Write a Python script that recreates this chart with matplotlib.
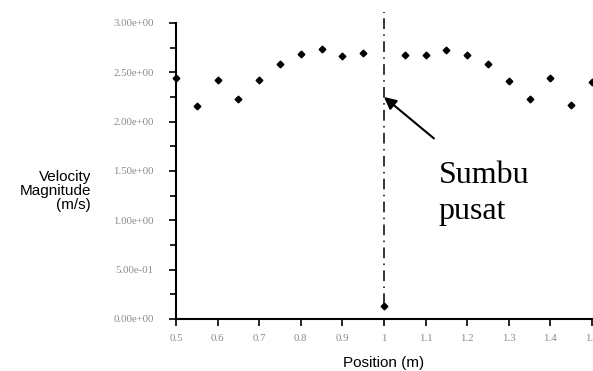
import matplotlib.pyplot as plt
from matplotlib.ticker import MultipleLocator

position = [0.5, 0.55, 0.6, 0.65, 0.7, 0.75, 0.8, 0.85, 0.9, 0.95, 1.0,
            1.05, 1.1, 1.15, 1.2, 1.25, 1.3, 1.35, 1.4, 1.45, 1.5]
velocity = [2.44, 2.16, 2.42, 2.23, 2.42, 2.58, 2.69, 2.74, 2.67, 2.70, 0.13,
            2.68, 2.68, 2.73, 2.68, 2.58, 2.41, 2.23, 2.44, 2.17, 2.40]
yticks = [0.0, 0.5, 1.0, 1.5, 2.0, 2.5, 3.0]
ytick_labels = ["0.00e+00", "5.00e-01", "1.00e+00", "1.50e+00",
                "2.00e+00", "2.50e+00", "3.00e+00"]
xticks = [0.5, 0.6, 0.7, 0.8, 0.9, 1.0, 1.1, 1.2, 1.3, 1.4, 1.5]
xtick_labels = ["0.5", "0.6", "0.7", "0.8", "0.9", "1", "1.1", "1.2", "1.3", "1.4", "1.5"]

fig = plt.figure(figsize=(5.93, 3.71), dpi=100)
ax = fig.add_axes([176/593, 52/371, 416/593, 296/371])

ax.plot(position, velocity, "kD", markersize=3.4, clip_on=False, zorder=3)

# centre axis line
ax.plot([1.0, 1.0], [0.15, 3.11], color="black", lw=1.1,
        linestyle=(0, (7, 3.5, 1, 3.5)), clip_on=False)
ax.annotate("", xy=(1.0, 2.25), xytext=(1.12, 1.83),
            arrowprops=dict(arrowstyle="-|>", color="black", lw=1.5,
                            mutation_scale=18, shrinkA=0, shrinkB=0))
ax.text(1.132, 1.378, "Sumbu", family="Liberation Serif", fontsize=23,
        va="baseline", ha="left")
ax.text(1.132, 1.013, "pusat", family="Liberation Serif", fontsize=23,
        va="baseline", ha="left")

ax.set_xlim(0.5, 1.5)
ax.set_ylim(0, 3.0)
ax.set_xticks(xticks)
ax.set_xticklabels(xtick_labels)
ax.set_yticks(yticks)
ax.set_yticklabels(ytick_labels)
ax.yaxis.set_minor_locator(MultipleLocator(0.25))

for s in ["top", "right"]:
    ax.spines[s].set_visible(False)
for s in ["left", "bottom"]:
    ax.spines[s].set_linewidth(1.5)

ax.tick_params(axis="both", which="major", length=5, width=1.2,
               labelsize=7.8, labelcolor="#8a8a8a")
ax.tick_params(axis="y", which="major", pad=11)
ax.tick_params(axis="x", which="major", pad=6)
ax.tick_params(axis="y", which="minor", length=4, width=1.2)
for lab in ax.get_xticklabels() + ax.get_yticklabels():
    lab.set_family("Liberation Serif")

fig.text(91/593, 1 - 191/371, "Velocity\nMagnitude\n(m/s)", ha="right", va="center",
         fontsize=11, family="Liberation Sans", linespacing=1.0)
fig.text(384/593, 1 - 363/371, "Position (m)", ha="center", va="center",
         fontsize=11, family="Liberation Sans")

fig.savefig("out.png", dpi=100)
